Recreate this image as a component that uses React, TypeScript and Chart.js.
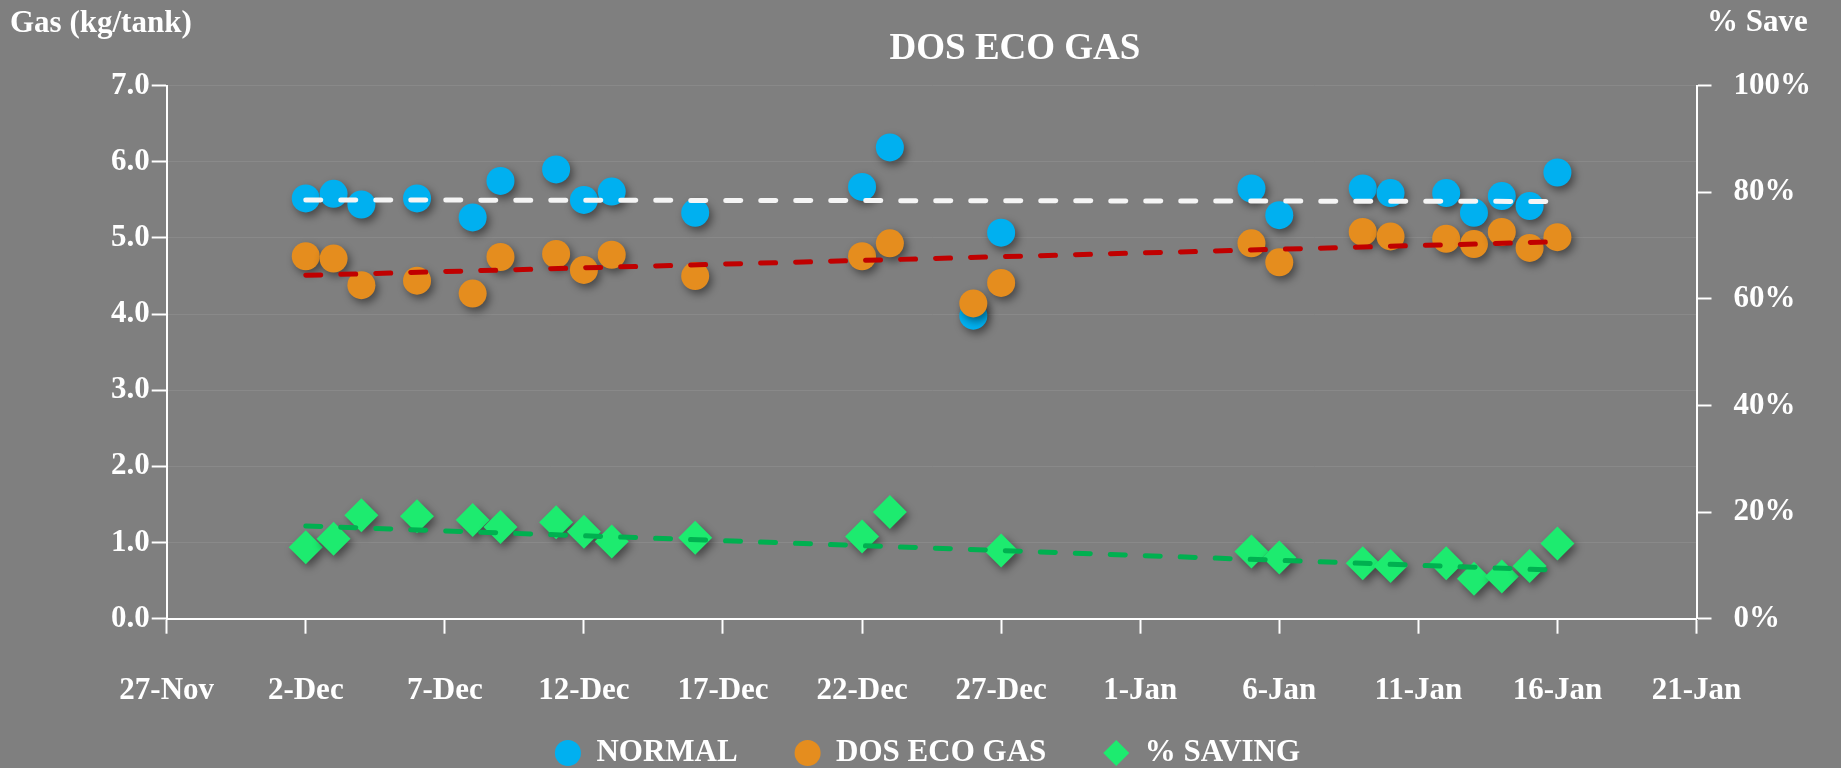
import React, { useEffect, useRef } from 'react';
import { Chart, registerables } from 'chart.js';

Chart.register(...registerables);

// ---- data ----
const START_DATE = '2023-11-27';
const dates = [
  '2023-12-02', '2023-12-03', '2023-12-04', '2023-12-06', '2023-12-08', '2023-12-09',
  '2023-12-11', '2023-12-12', '2023-12-13', '2023-12-16', '2023-12-22', '2023-12-23',
  '2023-12-26', '2023-12-27', '2024-01-05', '2024-01-06', '2024-01-09', '2024-01-10',
  '2024-01-12', '2024-01-13', '2024-01-14', '2024-01-15', '2024-01-16',
];
const normal = [5.52, 5.58, 5.44, 5.52, 5.27, 5.75, 5.9, 5.5, 5.61, 5.33, 5.67, 6.19, 3.98, 5.07, 5.65, 5.3, 5.65, 5.59, 5.59, 5.33, 5.55, 5.42, 5.86];
const ecoGas = [4.76, 4.73, 4.38, 4.44, 4.27, 4.75, 4.79, 4.58, 4.78, 4.5, 4.76, 4.93, 4.14, 4.41, 4.93, 4.68, 5.08, 5.02, 4.99, 4.92, 5.08, 4.87, 5.01];
const saving = [13.4, 15.0, 19.4, 19.2, 18.5, 17.2, 18.1, 16.3, 14.5, 15.2, 15.4, 20.0, null, 12.8, 12.6, 11.5, 10.4, 9.9, 10.4, 7.5, 7.9, 9.9, 14.1];

const trendDates = ['2023-12-02', '2024-01-16'];
const normalTrend = [5.5, 5.48];
const ecoTrend = [4.51, 4.95];
const savingTrend = [17.4, 9.1];

const xTickLabels = ['27-Nov', '2-Dec', '7-Dec', '12-Dec', '17-Dec', '22-Dec', '27-Dec', '1-Jan', '6-Jan', '11-Jan', '16-Jan', '21-Jan'];
const seriesNames = ['NORMAL', 'DOS ECO GAS', '% SAVING'];

const dayOf = (s: string) => Math.round((Date.parse(s) - Date.parse(START_DATE)) / 86400000);
const toPoints = (xs: string[], ys: (number | null)[]) => xs.map((d, i) => ({ x: dayOf(d), y: ys[i] }));

const FONT = '"Liberation Serif", "Times New Roman", serif';
const BG = '#7f7f7f';

const shadowPlugin = {
  id: 'markerShadow',
  beforeDatasetDraw(chart: any, args: any) {
    if (args.index > 2) return;
    const ctx = chart.ctx;
    ctx.save();
    ctx.shadowColor = 'rgba(0,0,0,0.45)';
    ctx.shadowBlur = 8;
    ctx.shadowOffsetX = 3;
    ctx.shadowOffsetY = 4;
  },
  afterDatasetDraw(chart: any, args: any) {
    if (args.index > 2) return;
    chart.ctx.restore();
  },
};

// lift the top of the legend box so it overlaps the (tall) x-axis box, keeping tick labels unclipped
const legendShiftPlugin = {
  id: 'legendShift',
  afterLayout(chart: any) {
    const lg = chart.legend;
    if (!lg) return;
    lg.top -= 24.5;
    lg.height += 24.5;
  },
};

const textPlugin = {
  id: 'extraText',
  afterDraw(chart: any) {
    const ctx = chart.ctx;
    ctx.save();
    ctx.fillStyle = '#ffffff';
    ctx.textBaseline = 'alphabetic';
    ctx.font = `bold 31px ${FONT}`;
    ctx.textAlign = 'left';
    ctx.fillText('Gas (kg/tank)', 10, 31.5);
    ctx.fillText('% Save', 1707, 31);
    ctx.font = `bold 37px ${FONT}`;
    ctx.textAlign = 'center';
    ctx.fillText('DOS ECO GAS', 1015, 59);
    ctx.restore();
  },
};

export default function App() {
  const ref = useRef<HTMLCanvasElement | null>(null);

  useEffect(() => {
    if (!ref.current) return;
    const tickFont = { family: FONT, size: 31, weight: 'bold' as const };
    const chart = new Chart(ref.current, {
      type: 'scatter',
      data: {
        datasets: [
          {
            label: seriesNames[0],
            data: toPoints(dates, normal),
            yAxisID: 'y',
            backgroundColor: '#00b0f0',
            borderColor: '#00b0f0',
            borderWidth: 0,
            pointStyle: 'circle',
            pointRadius: 14,
            order: 3,
          },
          {
            label: seriesNames[1],
            data: toPoints(dates, ecoGas),
            yAxisID: 'y',
            backgroundColor: '#e58d1e',
            borderColor: '#e58d1e',
            borderWidth: 0,
            pointStyle: 'circle',
            pointRadius: 14,
            order: 2,
          },
          {
            label: seriesNames[2],
            data: toPoints(dates, saving),
            yAxisID: 'y1',
            backgroundColor: '#1deb6f',
            borderColor: '#1deb6f',
            borderWidth: 0,
            pointStyle: 'rectRot',
            pointRadius: 17,
            order: 1,
          },
          {
            label: 'trend normal',
            data: toPoints(trendDates, normalTrend),
            yAxisID: 'y',
            showLine: true,
            borderColor: '#f5f5f5',
            borderWidth: 5,
            borderDash: [15, 20],
            borderCapStyle: 'round',
            pointRadius: 0,
            order: 0,
          },
          {
            label: 'trend eco',
            data: toPoints(trendDates, ecoTrend),
            yAxisID: 'y',
            showLine: true,
            borderColor: '#c00000',
            borderWidth: 5,
            borderDash: [15, 20],
            borderCapStyle: 'round',
            pointRadius: 0,
            order: 0,
          },
          {
            label: 'trend saving',
            data: toPoints(trendDates, savingTrend),
            yAxisID: 'y1',
            showLine: true,
            borderColor: '#00b050',
            borderWidth: 5,
            borderDash: [15, 20],
            borderCapStyle: 'round',
            pointRadius: 0,
            order: 0,
          },
        ] as any,
      },
      options: {
        responsive: false,
        animation: false,
        layout: { padding: { left: 14, top: 85.7, right: 0, bottom: 0 } },
        plugins: {
          tooltip: { enabled: false },
          title: { display: false },
          legend: {
            position: 'bottom',
            maxHeight: 63,
            labels: {
              usePointStyle: true,
              boxWidth: 26,
              boxHeight: 18.4,
              padding: 57,
              color: '#ffffff',
              font: tickFont,
              filter: (item: any) => item.datasetIndex < 3,
              sort: (a: any, b: any) => a.datasetIndex - b.datasetIndex,
            },
          } as any,
        },
        scales: {
          x: {
            type: 'linear',
            min: 0,
            max: 55,
            afterFit: (s: any) => { s.height = 86.3; },
            ticks: {
              stepSize: 5,
              autoSkip: false,
              maxRotation: 0,
              color: '#ffffff',
              font: tickFont,
              padding: 38.7,
              callback: (v: any) => xTickLabels[Math.round(Number(v) / 5)] ?? '',
            },
            grid: { display: true, drawOnChartArea: false, tickLength: 15, tickColor: '#ffffff', tickWidth: 2 },
            border: { color: '#ffffff', width: 2 },
          },
          y: {
            position: 'left',
            min: 0,
            max: 7,
            afterFit: (s: any) => { s.width = 152.7; },
            ticks: {
              stepSize: 1,
              color: '#ffffff',
              font: tickFont,
              padding: 2,
              callback: (v: any) => Number(v).toFixed(1),
            },
            grid: { color: '#898989', lineWidth: 1, tickLength: 15, tickColor: '#ffffff', tickWidth: 2 },
            border: { color: '#ffffff', width: 2 },
          },
          y1: {
            position: 'right',
            min: 0,
            max: 100,
            afterFit: (s: any) => { s.width = 144.5; },
            ticks: {
              stepSize: 20,
              color: '#ffffff',
              font: tickFont,
              padding: 22,
              callback: (v: any) => `${v}%`,
            },
            grid: { drawOnChartArea: false, tickLength: 15, tickColor: '#ffffff', tickWidth: 2 },
            border: { color: '#ffffff', width: 2 },
          },
        },
      } as any,
      plugins: [shadowPlugin, legendShiftPlugin, textPlugin],
    });
    return () => chart.destroy();
  }, []);

  return (
    <div style={{ position: 'fixed', left: 0, top: 0, width: 1841, height: 768, background: BG }}>
      <canvas ref={ref} width={1841} height={768} style={{ display: 'block', width: 1841, height: 768 }} />
    </div>
  );
}
